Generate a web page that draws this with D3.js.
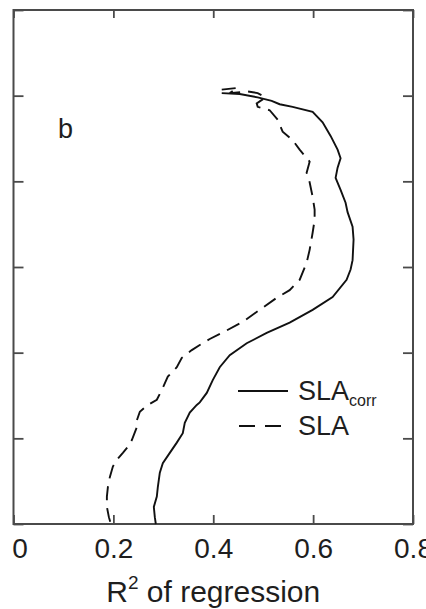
<!DOCTYPE html>
<html>
<head>
<meta charset="utf-8">
<script src="https://cdn.jsdelivr.net/npm/d3@7"></script>
<style>
  html, body { margin: 0; padding: 0; background: #fff; }
  svg { display: block; font-family: "Liberation Sans", Arial, Helvetica, sans-serif; }
</style>
</head>
<body>
<svg id="chart" width="426" height="609"></svg>
<script>
// R² of the regression profile, by level (level increases downward)
const levelsCorr = [97, 98, 102, 106, 110, 113, 119, 131, 147, 163, 173, 184, 196, 210, 225, 236, 253, 268, 292, 303, 315, 335, 350, 365, 377, 389, 403, 417, 432, 447, 458, 461, 470, 482, 494, 505, 517, 529, 540, 557, 568, 580, 592, 600];
const r2Corr     = [0.417, 0.453, 0.489, 0.517, 0.533, 0.559, 0.599, 0.619, 0.635, 0.649, 0.655, 0.649, 0.645, 0.655, 0.665, 0.669, 0.679, 0.681, 0.679, 0.675, 0.667, 0.639, 0.599, 0.553, 0.507, 0.467, 0.433, 0.413, 0.399, 0.387, 0.373, 0.367, 0.353, 0.343, 0.339, 0.327, 0.313, 0.299, 0.293, 0.289, 0.287, 0.281, 0.283, 0.285];

const levelsSla = [93, 91, 97, 95, 97, 102, 109, 113, 117, 128, 142, 152, 163, 177, 190, 201, 218, 233, 245, 260, 280, 295, 315, 327, 336, 350, 364, 374, 384, 391, 397, 406, 417, 428, 441, 455, 461, 469, 479, 487, 502, 510, 517, 525, 533, 545, 557, 568, 580, 592, 600];
const r2Sla     = [0.417, 0.449, 0.433, 0.469, 0.489, 0.505, 0.487, 0.489, 0.513, 0.529, 0.539, 0.559, 0.573, 0.593, 0.587, 0.593, 0.599, 0.603, 0.603, 0.599, 0.593, 0.587, 0.573, 0.553, 0.527, 0.493, 0.459, 0.427, 0.393, 0.373, 0.357, 0.337, 0.327, 0.309, 0.299, 0.287, 0.269, 0.253, 0.247, 0.247, 0.237, 0.229, 0.219, 0.207, 0.199, 0.193, 0.189, 0.187, 0.187, 0.191, 0.195];

const xTicks = [0, 0.2, 0.4, 0.6, 0.8];
const xTickLabels = ["0", "0.2", "0.4", "0.6", "0.8"];
const levelTicks = [0, 100, 200, 300, 400, 500, 600];

const svg = d3.select("#chart");
const frameColor = "#4a4a4a";
const textColor = "#1e1e1e";

const x = d3.scaleLinear().domain([0, 0.8]).range([13.5, 413]);
const y = d3.scaleLinear().domain([0, 600]).range([10, 524]);

// Axes with inward ticks on all four sides
const styleAxis = g => {
  g.select(".domain").remove();
  g.selectAll(".tick line").attr("stroke", frameColor).attr("stroke-width", 1.8);
};

svg.append("g")
  .attr("transform", `translate(0,${y(600)})`)
  .call(d3.axisBottom(x).tickValues(xTicks).tickSize(-9).tickPadding(14)
        .tickFormat((d, i) => xTickLabels[i]))
  .call(styleAxis)
  .call(g => g.selectAll(".tick text")
    .attr("fill", textColor).attr("font-size", 28)
    .attr("font-family", "Liberation Sans, Arial, sans-serif")
    .attr("dx", (d, i) => i === 0 ? 6 : 0));

svg.append("g")
  .attr("transform", `translate(0,${y(0)})`)
  .call(d3.axisTop(x).tickValues(xTicks).tickSize(-8).tickFormat(""))
  .call(styleAxis);

svg.append("g")
  .attr("transform", `translate(${x(0)},0)`)
  .call(d3.axisLeft(y).tickValues(levelTicks).tickSize(-10).tickFormat(""))
  .call(styleAxis);

svg.append("g")
  .attr("transform", `translate(${x(0.8)},0)`)
  .call(d3.axisRight(y).tickValues(levelTicks).tickSize(-10).tickFormat(""))
  .call(styleAxis);

// Plot frame
svg.append("rect")
  .attr("x", x(0)).attr("y", y(0))
  .attr("width", x(0.8) - x(0)).attr("height", y(600) - y(0))
  .attr("fill", "none").attr("stroke", frameColor).attr("stroke-width", 2);

// Profiles
const line = d3.line().x(d => x(d[0])).y(d => y(d[1]));

svg.append("path")
  .datum(r2Sla.map((v, i) => [v, levelsSla[i]]))
  .attr("d", line)
  .attr("fill", "none").attr("stroke", "#111").attr("stroke-width", 1.9)
  .attr("stroke-dasharray", "14,8");

svg.append("path")
  .datum(r2Corr.map((v, i) => [v, levelsCorr[i]]))
  .attr("d", line)
  .attr("fill", "none").attr("stroke", "#111").attr("stroke-width", 1.9);

// Panel letter
svg.append("text")
  .attr("x", 58).attr("y", 138)
  .attr("font-size", 27).attr("fill", textColor)
  .text("b");

// Legend
const legend = svg.append("g");
legend.append("line")
  .attr("x1", 238).attr("x2", 288).attr("y1", 391).attr("y2", 391)
  .attr("stroke", "#111").attr("stroke-width", 1.9);
const t1 = legend.append("text")
  .attr("x", 298).attr("y", 400)
  .attr("font-size", 27).attr("fill", textColor);
t1.append("tspan").text("SLA");
t1.append("tspan").attr("font-size", 16).attr("dy", 6).text("corr");

legend.append("line")
  .attr("x1", 239).attr("x2", 282).attr("y1", 426).attr("y2", 426)
  .attr("stroke", "#111").attr("stroke-width", 1.9)
  .attr("stroke-dasharray", "16,10");
legend.append("text")
  .attr("x", 298).attr("y", 435)
  .attr("font-size", 27).attr("fill", textColor)
  .text("SLA");

// Axis title
const title = svg.append("text")
  .attr("x", (x(0) + x(0.8)) / 2).attr("y", 602)
  .attr("text-anchor", "middle")
  .attr("font-size", 30).attr("fill", textColor);
title.append("tspan").text("R");
title.append("tspan").attr("font-size", 19).attr("dy", -13).text("2");
title.append("tspan").attr("dy", 13).text(" of regression");
</script>
</body>
</html>
